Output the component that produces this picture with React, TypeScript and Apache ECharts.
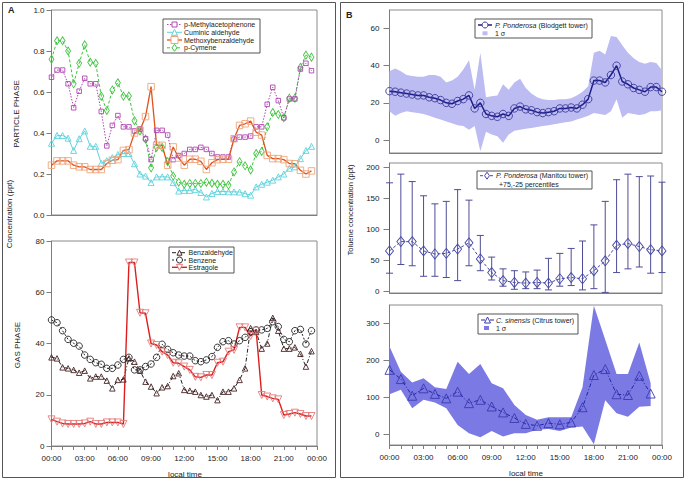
import React, { useEffect, useRef } from "react";
import * as echarts from "echarts";

const FONT = '"Liberation Sans", Arial, Helvetica, sans-serif';

// time categories (hours of day)
const halfHours: number[] = Array.from({ length: 48 }, (_, i) => i * 0.5);
const blodgettHours: number[] = Array.from({ length: 49 }, (_, i) => i * 0.5);
const manitouHours: number[] = Array.from({ length: 25 }, (_, i) => i);
const citrusHours: number[] = Array.from({ length: 24 }, (_, i) => i);

// Panel A – particle phase
const pMethylacetophenone = [0.672, 0.707, 0.707, 0.64, 0.523, 0.604, 0.667, 0.64, 0.64, 0.505, 0.337, 0.437, 0.485, 0.43, 0.43, 0.41, 0.42, 0.372, 0.27, 0.413, 0.413, 0.39, 0.27, 0.29, 0.3, 0.32, 0.32, 0.33, 0.32, 0.3, 0.283, 0.283, 0.283, 0.37, 0.38, 0.38, 0.385, 0.43, 0.43, 0.54, 0.623, 0.558, 0.474, 0.566, 0.566, 0.712, 0.74, 0.704];
const cuminicAldehyde = [0.35, 0.388, 0.388, 0.375, 0.315, 0.372, 0.41, 0.335, 0.335, 0.252, 0.265, 0.28, 0.295, 0.3, 0.3, 0.25, 0.2, 0.19, 0.158, 0.186, 0.186, 0.186, 0.158, 0.117, 0.12, 0.12, 0.125, 0.11, 0.088, 0.105, 0.115, 0.115, 0.113, 0.113, 0.112, 0.104, 0.097, 0.137, 0.15, 0.16, 0.17, 0.186, 0.2, 0.228, 0.235, 0.275, 0.315, 0.335];
const methoxybenzaldehyde = [0.243, 0.264, 0.264, 0.264, 0.243, 0.235, 0.235, 0.222, 0.222, 0.222, 0.251, 0.267, 0.27, 0.315, 0.319, 0.4, 0.413, 0.48, 0.626, 0.34, 0.34, 0.243, 0.332, 0.278, 0.243, 0.272, 0.272, 0.262, 0.222, 0.255, 0.27, 0.272, 0.272, 0.372, 0.437, 0.445, 0.458, 0.404, 0.39, 0.291, 0.275, 0.275, 0.27, 0.251, 0.25, 0.218, 0.2, 0.215];
const pCymene = [0.76, 0.85, 0.85, 0.8, 0.64, 0.74, 0.83, 0.745, 0.74, 0.58, 0.51, 0.61, 0.645, 0.58, 0.58, 0.46, 0.41, 0.37, 0.23, 0.33, 0.33, 0.26, 0.19, 0.16, 0.15, 0.154, 0.154, 0.154, 0.16, 0.155, 0.15, 0.15, 0.146, 0.21, 0.26, 0.24, 0.22, 0.3, 0.31, 0.43, 0.5, 0.49, 0.475, 0.57, 0.57, 0.72, 0.78, 0.77];

// Panel A – gas phase
const benzaldehyde = [34.6, 34.2, 30.7, 30.3, 29.7, 28.6, 29.4, 26.4, 27.1, 27.1, 25.5, 22.5, 25.8, 26, 34.2, 32.9, 29.4, 25.1, 23.2, 20.6, 22.9, 23.4, 27.3, 28.4, 21.9, 21.6, 21.2, 19.9, 19.3, 19.9, 17.9, 21.2, 21.2, 22.5, 25.8, 30.3, 46, 44.5, 38, 40, 50, 45, 38, 38, 38.5, 36, 31, 37];
const benzene = [49.2, 48.1, 45, 41.6, 40.1, 39, 35.5, 33.8, 32.5, 31.9, 30.3, 30.3, 31.6, 33.8, 34.6, 29.7, 29.7, 31, 32, 34.6, 39.7, 37.7, 36.4, 35.5, 35.1, 35.1, 33.3, 32.9, 33.6, 34.9, 38.5, 40.7, 41.1, 39.8, 41.1, 42.4, 44.6, 45.3, 45.3, 45.9, 48.5, 46.6, 41.6, 40.7, 45, 45.5, 39.8, 45];
const estragole = [10.4, 9.5, 8.8, 8.6, 8.6, 8.6, 8.8, 9.5, 8.6, 8.6, 9.2, 9.2, 9.2, 8.6, 71.6, 71.6, 52, 51.8, 40, 39.4, 36.8, 35.5, 32.5, 32.3, 31, 29.7, 27, 26.8, 27.7, 27.7, 32.5, 32.9, 36.8, 37.5, 46.3, 46.3, 42.9, 45, 19.9, 19.3, 18.6, 18.2, 12.1, 12.5, 13, 12.5, 11.7, 11.7];

// Panel B – toluene
const blodgettMean = [26.3, 26, 25.5, 25, 24.5, 24, 24, 23, 22.5, 21.5, 20, 19.5, 21, 22, 24, 17, 20, 14, 13, 12.5, 14, 13, 17, 18, 16.5, 16, 15, 14.5, 15, 15.5, 17, 17, 17.5, 17, 19, 22, 32, 32, 31, 35, 40, 31.5, 30, 28, 27, 26, 28.5, 28.5, 26];
const blodgettUpper = [37, 38.5, 37, 35, 34.5, 34, 34, 35, 35, 34, 31, 32, 34, 38, 43, 27, 47, 23, 23.5, 24, 30, 27, 31, 33, 28, 25, 23, 22, 21.5, 21.5, 22, 22, 22.5, 24, 26, 29, 47, 48, 46, 56, 55.5, 51, 47, 44, 42, 41, 42, 41.5, 37.5];
const blodgettLower = [15.5, 13, 14.5, 15.5, 15, 14.5, 14, 13, 12, 11, 10, 9, 8, 7.5, 5.5, 7.5, -6, 4.5, 3, 2, -1.5, 3, 5, 5.5, 6, 6.5, 7, 7.5, 8, 8.5, 9, 9.5, 10, 11, 12, 13, 14.5, 14, 13.5, 15.5, 22, 12, 14.5, 14, 13.5, 14, 15.5, 15.5, 16];

const manitouMedian = [65, 80, 80, 65, 60, 61, 68, 78, 52, 30, 17, 14, 13, 14, 13, 20, 22, 20, 33, 49, 74, 77, 72, 67, 65];
const manitouP75 = [175, 189, 177, 154, 141, 145, 164, 147, 90, 55, 36, 33, 31, 34, 53, 61, 69, 81, 107, 145, 180, 189, 185, 186, 176];
const manitouP25 = [29, 43, 41, 24, 24, 22, 17, 41, 33, 18, 8, 3, 4, 4, 2, 8, 9, 2, 4, -2, 30, 36, 39, 29, 30];

const citrusMean = [174, 149, 104, 124, 109, 97, 115, 84, 93, 75, 59, 44, 28, 23, 30, 27, 32, 73, 160, 176, 108, 106, 158, 110];
const citrusUpper = [237, 169, 140, 151, 127, 122, 196, 163, 190, 138, 124, 79, 52, 39, 46, 46, 46, 127, 347, 255, 163, 163, 248, 138];
const citrusLower = [108, 120, 70, 93, 86, 70, 25, 3, -8, 9, -6, 3, 3, 12, 14, 9, 18, 21, -27, 92, 57, 47, 74, 76];

const timeTicks = [0, 3, 6, 9, 12, 15, 18, 21, 24];

const fmtTime = (v: number) => {
  const h = Math.round(v) % 24;
  return (h < 10 ? "0" : "") + h + ":00";
};

const AXIS_COLOR = "#7d7d7d";
const LABEL_COLOR = "#222";

function xAxisDef(gridIndex: number, labels: boolean) {
  return {
    type: "value",
    gridIndex,
    min: 0,
    max: 24,
    interval: 3,
    axisLine: { show: true, onZero: false, lineStyle: { color: AXIS_COLOR, width: 1 } },
    axisTick: { show: labels, length: 4, lineStyle: { color: AXIS_COLOR } },
    minorTick: { show: labels, splitNumber: 3, length: 4, lineStyle: { color: AXIS_COLOR } },
    axisLabel: {
      show: labels,
      formatter: fmtTime,
      fontSize: 8,
      color: LABEL_COLOR,
      fontFamily: FONT,
      margin: 8,
      customValues: timeTicks,
    },
    splitLine: { show: false },
    minorSplitLine: { show: false },
  };
}

function yAxisDef(gridIndex: number, min: number, max: number, ticks: number[], dec: number, margin: number, tickLen: number) {
  return {
    type: "value",
    gridIndex,
    min,
    max,
    axisLine: { show: true, onZero: false, lineStyle: { color: AXIS_COLOR, width: 1 } },
    axisTick: { show: true, length: tickLen, lineStyle: { color: AXIS_COLOR }, customValues: ticks },
    axisLabel: {
      fontSize: 8,
      color: LABEL_COLOR,
      fontFamily: FONT,
      margin,
      customValues: ticks,
      formatter: (v: number) => v.toFixed(dec),
    },
    splitLine: { show: false },
  };
}

type LineOpts = {
  axis: number;
  xs: number[];
  ys: number[];
  color: string;
  mcolor: string;
  symbol: string;
  size: number | number[];
  dash?: any;
  width?: number;
  rotate?: number;
  z?: number;
};

function lineSeries(o: LineOpts) {
  return {
    type: "line",
    xAxisIndex: o.axis,
    yAxisIndex: o.axis,
    data: o.xs.map((x, i) => [x, o.ys[i]]),
    symbol: o.symbol,
    symbolSize: o.size,
    symbolRotate: o.rotate || 0,
    showSymbol: true,
    showAllSymbol: true,
    lineStyle: { color: o.color, width: o.width || 1, type: o.dash || "solid" },
    itemStyle: { color: "rgba(255,255,255,0)", borderColor: o.mcolor, borderWidth: 0.9 },
    emphasis: { disabled: true },
    silent: true,
    z: o.z || 3,
  };
}

function bandSeries(axis: number, xs: number[], upper: number[], lower: number[], fill: string) {
  return {
    type: "custom",
    xAxisIndex: axis,
    yAxisIndex: axis,
    silent: true,
    z: 1,
    data: xs.map((x, i) => [x, upper[i], lower[i]]),
    encode: { x: 0, y: [1, 2] },
    renderItem: (params: any, api: any) => {
      if (params.dataIndex !== 0) return null;
      const pts: number[][] = [];
      for (let i = 0; i < xs.length; i++) pts.push(api.coord([xs[i], upper[i]]));
      for (let i = xs.length - 1; i >= 0; i--) pts.push(api.coord([xs[i], lower[i]]));
      return { type: "polygon", shape: { points: pts }, style: { fill, stroke: "none" } };
    },
  };
}

function errorBarSeries(axis: number, xs: number[], hi: number[], lo: number[], color: string) {
  return {
    type: "custom",
    xAxisIndex: axis,
    yAxisIndex: axis,
    silent: true,
    z: 2,
    data: xs.map((x, i) => [x, hi[i], lo[i]]),
    encode: { x: 0, y: [1, 2] },
    renderItem: (params: any, api: any) => {
      const x = api.value(0);
      const top = api.coord([x, api.value(1)]);
      const bot = api.coord([x, api.value(2)]);
      const w = 3.5;
      const st = { stroke: color, lineWidth: 1 };
      return {
        type: "group",
        children: [
          { type: "line", shape: { x1: top[0], y1: top[1], x2: bot[0], y2: bot[1] }, style: st },
          { type: "line", shape: { x1: top[0] - w, y1: top[1], x2: top[0] + w, y2: top[1] }, style: st },
          { type: "line", shape: { x1: bot[0] - w, y1: bot[1], x2: bot[0] + w, y2: bot[1] }, style: st },
        ],
      };
    },
  };
}

// ---- graphic helpers (legends, labels) ----
function gLine(x1: number, x2: number, y: number, color: string, dash?: number[], width = 1) {
  return {
    type: "line",
    silent: true,
    shape: { x1, y1: y, x2, y2: y },
    style: { stroke: color, lineWidth: width, lineDash: dash || null },
  };
}

function gMarker(kind: string, cx: number, cy: number, s: number, stroke: string) {
  const style = { fill: "#fff", stroke, lineWidth: 1 };
  const h = s / 2;
  if (kind === "rect") return { type: "rect", silent: true, shape: { x: cx - h, y: cy - h, width: s, height: s }, style };
  if (kind === "circle") return { type: "circle", silent: true, shape: { cx, cy, r: h }, style };
  let points: number[][];
  if (kind === "triangle") points = [[cx, cy - h], [cx + h, cy + h], [cx - h, cy + h]];
  else if (kind === "itriangle") points = [[cx, cy + h], [cx + h, cy - h], [cx - h, cy - h]];
  else points = [[cx, cy - h], [cx + h * 0.7, cy], [cx, cy + h], [cx - h * 0.7, cy]];
  return { type: "polygon", silent: true, shape: { points }, style };
}

function gText(x: number, y: number, text: string, size = 7, extra: any = {}) {
  return {
    type: "text",
    silent: true,
    x,
    y,
    rotation: extra.rotation || 0,
    style: {
      text,
      fontSize: size,
      fontFamily: FONT,
      fill: LABEL_COLOR,
      align: extra.align || "left",
      verticalAlign: "middle",
      fontWeight: extra.bold ? "bold" : "normal",
      rich: extra.rich,
    },
  };
}

function gBox(x: number, y: number, w: number, h: number, stroke = "#555") {
  return { type: "rect", silent: true, shape: { x, y, width: w, height: h }, style: { fill: "#fff", stroke, lineWidth: 1 } };
}

const italicRich = { i: { fontStyle: "italic", fontSize: 7, fontFamily: FONT, fill: LABEL_COLOR } };

export default function App() {
  const ref = useRef<HTMLDivElement>(null);

  useEffect(() => {
    if (!ref.current) return;
    const chart = echarts.init(ref.current, null, { renderer: "svg" });

    const grids = [
      { left: 51.5, top: 10, width: 265.5, height: 205 },
      { left: 51.5, top: 241, width: 265.5, height: 205 },
      { left: 389.5, top: 10, width: 272.5, height: 143 },
      { left: 389.5, top: 163, width: 272.5, height: 130 },
      { left: 389.5, top: 305, width: 272.5, height: 140 },
    ].map((g) => ({
      ...g,
      show: true,
      borderColor: "#8a8a8a",
      borderWidth: 1,
      backgroundColor: "rgba(0,0,0,0)",
      containLabel: false,
      outerBoundsMode: "none",
    }));

    const cMethyl = "#b046b0";
    const cCuminic = "#5fd3dc";
    const cMethoxyLine = "#e0521c";
    const cMethoxyMark = "#eea57c";
    const cCymene = "#3fc43f";
    const cBenzald = "#4a2424";
    const cBenzene = "#222";
    const cEstraLine = "#dc1e1e";
    const cEstraMark = "#e77a7a";
    const cBlodLine = "#1c1c8a";
    const cBlodMark = "#3a3a9a";
    const cBlodBand = "#bcbbf2";
    const cManLine = "#4747a6";
    const cManBar = "#4d4d98";
    const cCitLine = "#2424a0";
    const cCitMark = "#3a3ab0";
    const cCitBand = "#7b79e3";
    const dashDot = [4, 2, 1, 2];

    const option: any = {
      animation: false,
      backgroundColor: "#fff",
      textStyle: { fontFamily: FONT },
      grid: grids,
      xAxis: [xAxisDef(0, false), xAxisDef(1, true), xAxisDef(2, false), xAxisDef(3, false), xAxisDef(4, true)],
      yAxis: [
        yAxisDef(0, 0, 1, [0, 0.2, 0.4, 0.6, 0.8, 1.0], 1, 7, 5),
        yAxisDef(1, 0, 80, [0, 20, 40, 60, 80], 0, 7, 5),
        yAxisDef(2, -7, 70, [0, 20, 40, 60], 0, 10, 6),
        yAxisDef(3, -3, 207, [0, 50, 100, 150, 200], 0, 10, 6),
        yAxisDef(4, -29, 349, [0, 100, 200, 300], 0, 10, 6),
      ],
      series: [
        // particle phase
        lineSeries({ axis: 0, xs: halfHours, ys: cuminicAldehyde, color: cCuminic, mcolor: cCuminic, symbol: "triangle", size: 6 }),
        lineSeries({ axis: 0, xs: halfHours, ys: pCymene, color: cCymene, mcolor: cCymene, symbol: "diamond", size: [5, 8], dash: [3, 2] }),
        lineSeries({ axis: 0, xs: halfHours, ys: pMethylacetophenone, color: cMethyl, mcolor: cMethyl, symbol: "rect", size: 4.5, dash: [1.5, 1.5] }),
        lineSeries({ axis: 0, xs: halfHours, ys: methoxybenzaldehyde, color: cMethoxyLine, mcolor: cMethoxyMark, symbol: "rect", size: 6.5, width: 1.3 }),
        // gas phase
        lineSeries({ axis: 1, xs: halfHours, ys: benzaldehyde, color: "#222", mcolor: cBenzald, symbol: "triangle", size: 5.5, dash: dashDot }),
        lineSeries({ axis: 1, xs: halfHours, ys: benzene, color: cBenzene, mcolor: cBenzene, symbol: "circle", size: 6.5, dash: [2, 2] }),
        lineSeries({ axis: 1, xs: halfHours, ys: estragole, color: cEstraLine, mcolor: cEstraMark, symbol: "triangle", size: 7, rotate: 180, width: 1.4 }),
        // B: Blodgett
        bandSeries(2, blodgettHours, blodgettUpper, blodgettLower, cBlodBand),
        lineSeries({ axis: 2, xs: blodgettHours, ys: blodgettMean, color: cBlodLine, mcolor: cBlodMark, symbol: "circle", size: 7.5, width: 1.5 }),
        // B: Manitou
        errorBarSeries(3, manitouHours, manitouP75, manitouP25, cManBar),
        lineSeries({ axis: 3, xs: manitouHours, ys: manitouMedian, color: cManLine, mcolor: cManLine, symbol: "diamond", size: [8, 10], dash: [3, 2] }),
        // B: Citrus
        bandSeries(4, citrusHours, citrusUpper, citrusLower, cCitBand),
        lineSeries({ axis: 4, xs: citrusHours, ys: citrusMean, color: cCitLine, mcolor: cCitMark, symbol: "triangle", size: 9, dash: dashDot }),
      ],
      graphic: [
        // panel frames
        { type: "rect", silent: true, shape: { x: 2.5, y: 2.5, width: 333, height: 475 }, style: { fill: "none", stroke: "#555", lineWidth: 1 } },
        { type: "rect", silent: true, shape: { x: 340.5, y: 2.5, width: 343, height: 475 }, style: { fill: "none", stroke: "#555", lineWidth: 1 } },
        gText(8, 10, "A", 9, { bold: true }),
        gText(346, 15, "B", 9, { bold: true }),
        // axis titles
        gText(16, 114, "PARTICLE PHASE", 8, { rotation: Math.PI / 2, align: "center" }),
        gText(9, 214, "Concentration (ppt)", 8, { rotation: Math.PI / 2, align: "center" }),
        gText(17, 345, "GAS PHASE", 8, { rotation: Math.PI / 2, align: "center" }),
        gText(350, 210, "Toluene concentration (ppt)", 7.5, { rotation: Math.PI / 2, align: "center" }),
        gText(185, 474, "local time", 8, { align: "center" }),
        gText(526, 473, "local time", 8, { align: "center" }),
        // legend A particle
        gBox(163, 19, 97, 34),
        gLine(167, 182, 24.5, cMethyl, [1.5, 1.5]),
        gMarker("rect", 174.5, 24.5, 5, cMethyl),
        gText(184, 24.5, "p-Methylacetophenone"),
        gLine(167, 182, 32.3, cCuminic),
        gMarker("triangle", 174.5, 32.3, 6, cCuminic),
        gText(184, 32.3, "Cuminic aldehyde"),
        gLine(167, 182, 40, cMethoxyLine, undefined, 1.3),
        gMarker("rect", 174.5, 40, 7, cMethoxyMark),
        gText(184, 40, "Methoxybenzaldehyde"),
        gLine(167, 182, 47.8, cCymene, [3, 2]),
        gMarker("diamond", 174.5, 47.8, 7, cCymene),
        gText(184, 47.8, "p-Cymene"),
        // legend A gas
        gBox(169, 247, 65, 26),
        gLine(172, 187, 252.7, "#222", dashDot),
        gMarker("triangle", 179.5, 252.7, 5, cBenzald),
        gText(188.5, 252.7, "Benzaldehyde"),
        gLine(172, 187, 260, "#222", [2, 2]),
        gMarker("circle", 179.5, 260, 6, cBenzene),
        gText(188.5, 260, "Benzene"),
        gLine(172, 187, 267.3, cEstraLine, undefined, 1.4),
        gMarker("itriangle", 179.5, 267.3, 6, cEstraMark),
        gText(188.5, 267.3, "Estragole"),
        // legend B Blodgett
        gBox(475, 19, 117, 19),
        gLine(478, 492, 25, cBlodLine, undefined, 1.5),
        gMarker("circle", 485, 25, 6, cBlodMark),
        { ...gText(495, 25, "{i|P. Ponderosa} (Blodgett tower)", 7, { rich: italicRich }) },
        { type: "rect", silent: true, shape: { x: 482.5, y: 31.3, width: 5, height: 4 }, style: { fill: cBlodBand } },
        gText(495, 33.3, "1 σ"),
        // legend B Manitou
        gBox(477, 171, 115, 18),
        gLine(480, 494, 175.7, cManLine, [3, 2]),
        gMarker("diamond", 487, 175.7, 7, cManLine),
        { ...gText(496, 175.7, "{i|P. Ponderosa} (Manitou tower)", 7, { rich: italicRich }) },
        gText(499, 184.3, "+75,-25 percentiles"),
        // legend B Citrus
        gBox(478, 314, 100, 20),
        gLine(481, 494, 320, cCitLine, dashDot),
        gMarker("triangle", 487.5, 320, 6, cCitMark),
        { ...gText(496, 320, "{i|C. sinensis} (Citrus tower)", 7, { rich: italicRich }) },
        { type: "rect", silent: true, shape: { x: 484, y: 326, width: 5, height: 4 }, style: { fill: cCitBand } },
        gText(496, 328, "1 σ"),
      ],
    };

    chart.setOption(option);
    return () => chart.dispose();
  }, []);

  return (
    <div
      ref={ref}
      style={{ position: "absolute", left: 0, top: 0, width: 685, height: 480, background: "#fff" }}
    />
  );
}
